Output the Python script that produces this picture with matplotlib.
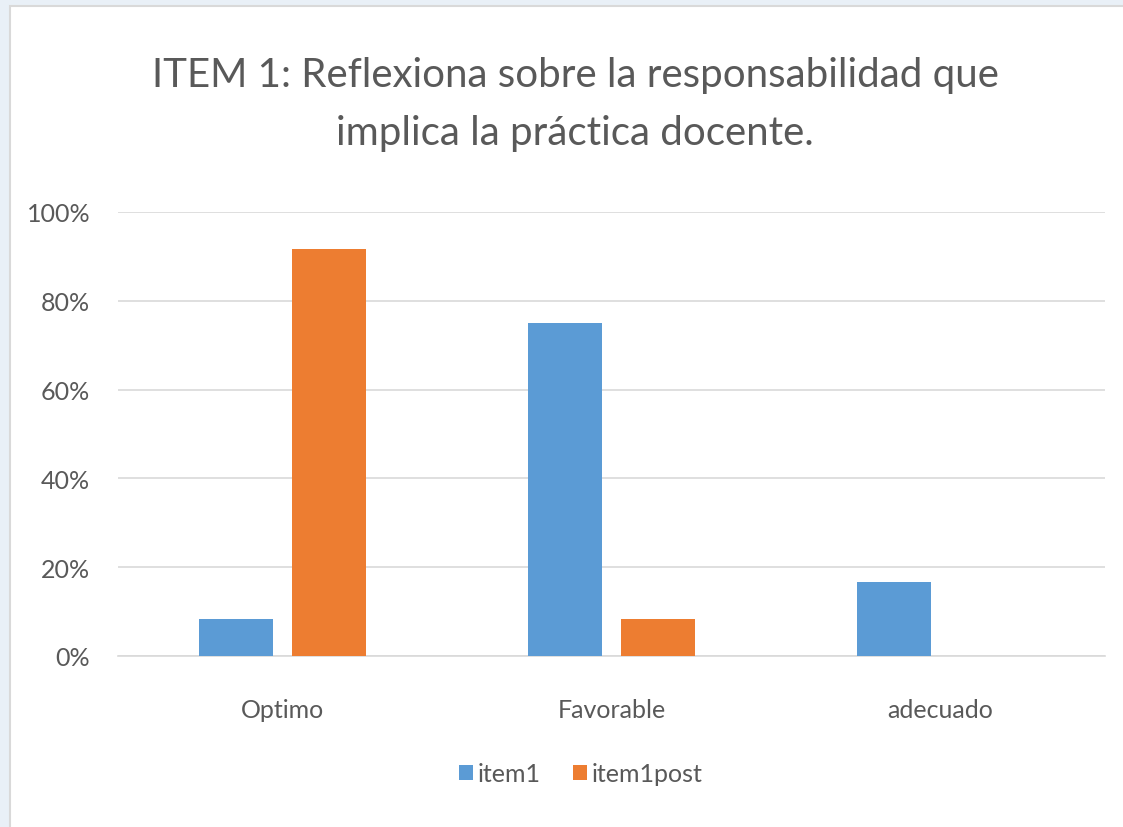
import matplotlib.pyplot as plt
import numpy as np
from matplotlib.patches import Rectangle

plt.rcParams['font.family'] = ['Lato', 'DejaVu Sans']

# Datos del gráfico
categorias = ['Optimo', 'Favorable', 'adecuado']
item1 = [8.3, 75.0, 16.7]
item1post = [91.7, 8.3, 0.0]
ticks_y = [0, 20, 40, 60, 80, 100]

azul = '#5B9BD5'
naranja = '#ED7D31'
gris_texto = '#595959'

fig = plt.figure(figsize=(11.23, 8.28), dpi=100)
fig.patch.set_facecolor('#E9F0F7')

# Panel blanco del gráfico
fig.patches.append(Rectangle((10 / 1123, -0.01), 1.0, 1.01 - 7 / 828, transform=fig.transFigure,
                             facecolor='white', edgecolor='#D9D9D9', linewidth=1.5, zorder=-1))

ax = fig.add_axes([118 / 1123, 1 - 657 / 828, (1105 - 118) / 1123, (657 - 213) / 828])
ax.set_zorder(2)
ax.set_facecolor('white')

x = np.arange(len(categorias))
ancho = 0.225
ax.bar(x - 0.141, item1, ancho, color=azul, label='item1', zorder=3)
ax.bar(x + 0.141, item1post, ancho, color=naranja, label='item1post', zorder=3)

ax.set_xlim(-0.5, 2.5)
ax.set_ylim(0, 100)
ax.set_yticks(ticks_y)
ax.set_yticklabels([f'{t}%' for t in ticks_y])
ax.set_xticks(x)
ax.set_xticklabels(categorias)
ax.tick_params(axis='both', length=0, labelsize=18, colors=gris_texto)
ax.tick_params(axis='x', pad=30)
ax.tick_params(axis='y', pad=20)

ax.grid(axis='y', color='#D9D9D9', linewidth=1.2, zorder=0)
for lado in ['top', 'right', 'left']:
    ax.spines[lado].set_visible(False)
ax.spines['bottom'].set_color('#D9D9D9')
ax.spines['bottom'].set_linewidth(1.2)

fig.text(575 / 1123, 1 - 105 / 828,
         'ITEM 1: Reflexiona sobre la responsabilidad que\nimplica la práctica docente.',
         ha='center', va='center', fontsize=29, color=gris_texto, linespacing=1.7)

ax.legend(loc='center', bbox_to_anchor=(0.469, -0.265), ncol=2, frameon=False,
          fontsize=18, labelcolor=gris_texto, handlelength=0.55, handleheight=0.55,
          handletextpad=0.2, columnspacing=1.3)

plt.savefig('out.png', dpi=100, facecolor=fig.get_facecolor())
